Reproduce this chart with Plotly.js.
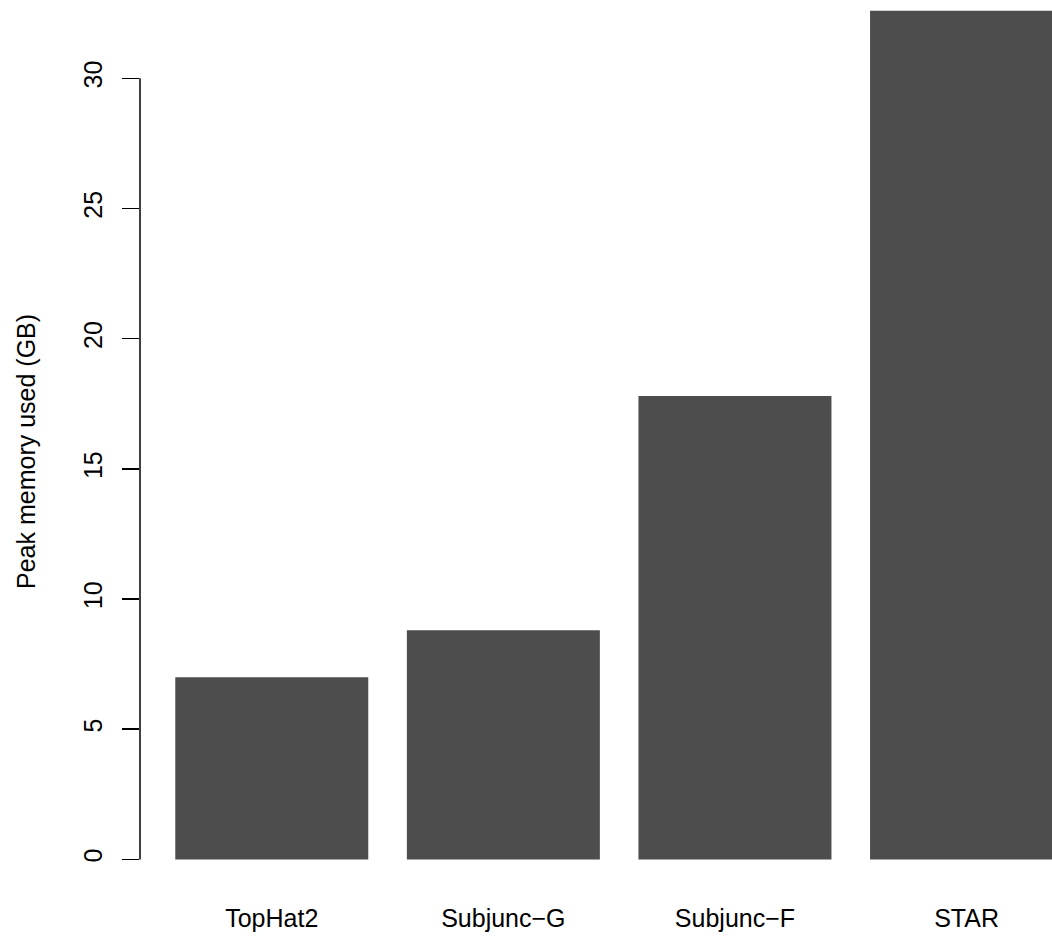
<!DOCTYPE html>
<html>
<head>
<meta charset="utf-8">
<script src="https://cdn.plot.ly/plotly-3.0.1.min.js"></script>
<style>html,body{margin:0;padding:0;background:#fff;}#chart{width:1052px;height:938px;}</style>
</head>
<body>
<div id="chart"></div>
<script>
const categories = ["TopHat2", "Subjunc\u2212G", "Subjunc\u2212F", "STAR"];
const peakMemoryGB = [7.0, 8.8, 17.8, 32.6];
const yTickValues = [0, 5, 10, 15, 20, 25, 30];
const yTitle = "Peak memory used (GB)";

const font = {family: "Liberation Sans, Arial, Helvetica, sans-serif", size: 25, color: "#000"};

const data = [{
  type: "bar",
  x: categories,
  y: peakMemoryGB,
  marker: {color: "#4D4D4D", line: {width: 0}},
  hoverinfo: "x+y"
}];

const layout = {
  width: 1052,
  height: 938,
  margin: {l: 140, r: 0, t: 0, b: 45, pad: 0},
  paper_bgcolor: "#fff",
  plot_bgcolor: "#fff",
  font: font,
  showlegend: false,
  bargap: 1/6,
  xaxis: {
    type: "category",
    range: [-0.569, 3.369],
    showline: false,
    showgrid: false,
    zeroline: false,
    ticks: "",
    ticklabelstandoff: 8,
    tickfont: font,
    fixedrange: true
  },
  yaxis: {
    range: [-1.29, 33.01],
    tickmode: "array",
    tickvals: yTickValues,
    ticktext: yTickValues.map(String),
    tickangle: -90,
    ticks: "outside",
    ticklen: 17,
    tickwidth: 1.5,
    tickcolor: "#000",
    ticklabelstandoff: 10,
    showline: false,
    showgrid: false,
    zeroline: false,
    tickfont: font,
    fixedrange: true
  },
  shapes: [{
    type: "line",
    xref: "paper", yref: "y",
    x0: 0, x1: 0, y0: yTickValues[0], y1: yTickValues[yTickValues.length - 1],
    line: {color: "#000", width: 1.5}
  }],
  annotations: [{
    text: yTitle,
    xref: "paper", yref: "paper",
    x: 0, y: (859.3 - 452) / 893 > 0 ? 1 - 452 / 893 : 0.5,
    xanchor: "center", yanchor: "middle",
    xshift: -114,
    textangle: -90,
    showarrow: false,
    font: font
  }]
};

Plotly.newPlot("chart", data, layout, {displayModeBar: false, staticPlot: true});
</script>
</body>
</html>
